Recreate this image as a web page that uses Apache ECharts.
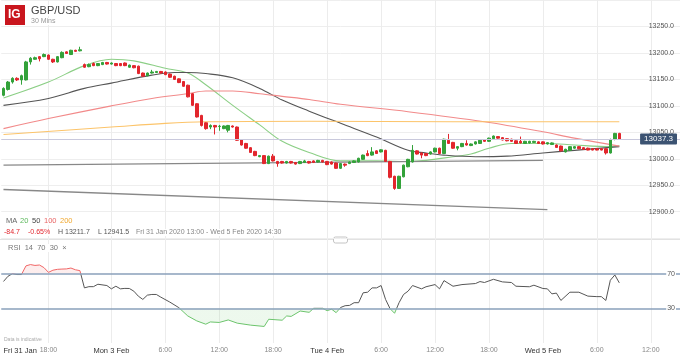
<!DOCTYPE html>
<html>
<head>
<meta charset="utf-8">
<script src="https://cdn.jsdelivr.net/npm/echarts@6/dist/echarts.min.js"></script>
<style>
  html, body { margin: 0; padding: 0; background: #fff; }
  #chart { width: 680px; height: 355px; }
</style>
</head>
<body>
<div id="chart"></div>
<script>
// GBP/USD 30 min, Fri 31 Jan - Wed 5 Feb 2020
var FONT = 'Liberation Sans, Arial, sans-serif';
var UP = '#33a23a';
var DOWN = '#e2262d';

// trading sessions: day, first hour, number of 30 min bars
var sessions = [['Fri 31 Jan', 13, 22], ['Sun 2 Feb', 23, 2], ['Mon 3 Feb', 0, 48], ['Tue 4 Feb', 0, 48], ['Wed 5 Feb', 0, 31]];
var categories = [];
sessions.forEach(function (s) {
  for (var k = 0; k < s[2]; k++) {
    var m = s[1] * 60 + k * 30;
    categories.push(s[0] + ' ' + Math.floor(m / 60) + ':' + (m % 60 ? '30' : '00'));
  }
});

var tickLabels = {
  'Fri 31 Jan 13:00': 'Fri 31 Jan',
  'Fri 31 Jan 18:00': '18:00',
  'Mon 3 Feb 0:00': 'Mon 3 Feb',
  'Mon 3 Feb 6:00': '6:00',
  'Mon 3 Feb 12:00': '12:00',
  'Mon 3 Feb 18:00': '18:00',
  'Tue 4 Feb 0:00': 'Tue 4 Feb',
  'Tue 4 Feb 6:00': '6:00',
  'Tue 4 Feb 12:00': '12:00',
  'Tue 4 Feb 18:00': '18:00',
  'Wed 5 Feb 0:00': 'Wed 5 Feb',
  'Wed 5 Feb 6:00': '6:00',
  'Wed 5 Feb 12:00': '12:00'
};

// [open, close, low, high]
var candles = [
  [13120, 13133, 13118, 13135], [13131, 13145, 13129, 13147], [13145, 13152, 13142, 13154], [13152, 13149, 13147, 13154],
  [13149, 13157, 13140, 13159], [13149, 13183, 13148, 13185], [13183, 13190, 13178, 13192], [13188, 13191, 13187, 13193],
  [13193, 13189, 13184, 13194], [13193, 13197, 13192, 13199], [13196, 13188, 13187, 13197], [13188, 13183, 13181, 13189],
  [13183, 13193, 13182, 13194], [13191, 13201, 13190, 13203], [13202, 13199, 13198, 13203], [13197, 13205, 13196, 13206],
  [13205, 13203, 13202, 13206], [13204, 13206, 13203, 13211.7],
  [13178, 13173, 13172, 13180], [13174, 13178, 13173, 13180], [13180, 13176, 13175, 13182], [13176, 13180, 13175, 13181],
  [13178, 13182, 13177, 13183], [13182, 13179, 13178, 13183], [13179, 13181, 13178, 13182], [13180, 13176, 13175, 13181],
  [13180, 13176, 13175, 13181], [13181, 13176, 13175, 13182], [13173, 13177, 13172, 13178], [13176, 13172, 13171, 13177],
  [13175, 13161, 13160, 13176], [13162, 13156, 13155, 13163], [13157, 13162, 13156, 13163], [13162, 13164, 13161, 13168],
  [13163, 13165, 13162, 13166], [13165, 13162, 13161, 13166], [13164, 13159, 13158, 13165], [13160, 13154, 13153, 13161],
  [13156, 13150, 13149, 13157], [13151, 13144, 13143, 13152], [13146, 13137, 13136, 13147], [13139, 13117, 13116, 13140],
  [13123, 13101, 13100, 13124], [13104, 13079, 13078, 13105], [13082, 13063, 13061, 13083], [13068, 13057, 13055, 13069],
  [13060, 13063, 13056, 13065], [13063, 13060, 13046, 13064], [13061, 13061.5, 13053, 13064], [13057, 13062, 13056, 13063],
  [13054, 13063, 13050, 13064], [13062, 13060, 13059, 13063], [13060, 13035, 13034, 13061], [13036, 13026, 13025, 13037],
  [13029, 13020, 13019, 13030], [13021, 13012, 13011, 13022], [13014, 13006, 13005, 13015], [13004, 13006, 13003, 13007],
  [13006, 12991, 12990, 13007], [12991, 13005, 12990, 13006], [13005, 12996, 12995, 13009], [12995, 12991, 12985, 12996],
  [12995, 12992, 12991, 12996], [12992, 12995, 12991, 12996], [12995, 12992, 12991, 12996], [12993, 12990, 12989, 12994],
  [12991, 12995, 12990, 12996], [12993, 12996, 12992, 12998], [12995, 12992, 12991, 12996], [12996, 12993, 12992, 12997],
  [12994, 12997, 12993, 12998], [12997, 12994, 12993, 12998], [12995, 12989, 12988, 12996], [12994, 12990, 12989, 12995],
  [12992, 12982, 12981, 12993], [12982, 12991, 12981, 12992], [12990, 12988, 12985, 12991], [12991, 12994, 12990, 12995],
  [12993, 12996, 12992, 12997], [12994, 13001, 12993, 13002], [12999, 13007, 12998, 13008], [13010, 13006, 13005, 13016],
  [13007, 13013, 13006, 13022], [13015, 13010, 13009, 13016], [13013, 13017, 13012, 13018], [13016, 12995, 12994, 13017],
  [12995, 12965, 12963, 12996], [12967, 12944, 12941.5, 12968], [12944, 12967, 12943, 12968], [12966, 12988, 12965, 12989],
  [12985, 12999, 12984, 13000], [12994, 13016, 12993, 13026], [13015, 13009, 13008, 13016], [13011, 13007, 13001, 13012],
  [13010, 13006, 13005, 13011], [13009, 13013, 13008, 13014], [13013, 13020, 13012, 13021], [13020, 13010, 13009, 13021],
  [13010, 13037, 13009, 13038], [13035, 13029, 13028, 13047], [13031, 13020, 13019, 13032], [13020, 13023, 13016, 13024],
  [13023, 13029, 13022, 13030], [13029, 13026, 13025, 13035], [13025, 13028, 13024, 13029], [13028, 13032, 13027, 13033],
  [13029, 13035, 13028, 13036], [13036, 13033, 13032, 13037], [13033, 13039, 13032, 13040], [13038, 13043, 13037, 13044],
  [13042, 13039, 13038, 13043], [13040, 13035.5, 13035, 13041], [13038, 13034, 13033, 13039], [13037, 13033, 13032, 13038],
  [13034, 13029, 13028, 13035], [13033, 13030, 13029, 13042], [13029, 13033, 13028, 13034], [13030, 13033, 13029, 13034],
  [13031, 13033, 13030, 13034], [13032, 13029, 13028, 13033], [13032, 13028, 13027, 13033], [13028, 13030.5, 13027, 13031],
  [13027, 13030, 13026, 13031], [13026, 13021.5, 13021, 13027], [13024, 13015, 13014, 13025], [13013, 13018, 13012, 13019],
  [13016, 13023, 13015, 13024], [13020, 13023, 13019, 13024], [13023, 13019, 13018, 13024], [13021, 13018, 13017, 13022],
  [13020, 13016.5, 13016, 13021], [13019, 13016.5, 13016, 13020], [13019, 13016.5, 13016, 13020], [13019, 13016.5, 13016, 13020],
  [13019, 13011, 13008, 13020], [13011, 13036.5, 13010, 13038], [13036.5, 13048, 13035, 13049], [13048, 13037.3, 13036, 13049]
];
var lastPrice = 13037.3;

// moving averages: [bar index, value]
var ma20 = [[0, 13115], [10, 13145], [18, 13176], [24, 13188], [29, 13185], [36, 13171], [41, 13162], [45, 13140], [51, 13101],
  [57, 13064], [62, 13033], [68, 13012], [75, 12996], [83, 12996], [90, 12995], [94, 12997], [100, 13004], [104, 13009],
  [108, 13020], [113, 13029], [121, 13029], [127, 13026], [135, 13023], [137, 13025]];
var ma50 = [[0, 13101], [10, 13114], [18, 13133], [24, 13143], [33, 13158], [38, 13163], [41, 13163], [45, 13161], [51, 13153],
  [57, 13133], [62, 13111], [68, 13090], [75, 13067], [83, 13041], [90, 13016], [94, 13011], [98, 13007], [105, 13004],
  [112, 13005], [120, 13011], [127, 13016], [137, 13023]];
var ma100 = [[0, 13057], [10, 13076], [24, 13100], [33, 13114], [41, 13123], [45, 13128], [51, 13128], [57, 13123], [62, 13118],
  [68, 13112], [75, 13103], [90, 13089], [107, 13070], [120, 13051], [127, 13039], [137, 13024]];
var ma200 = [[0, 13046], [24, 13060], [36, 13067], [45, 13070], [68, 13071], [100, 13070], [137, 13070]];

// drawn trend lines
var trendUpper = [[0, 12988], [120, 12997]];
var trendLower = [[0, 12942], [121, 12904]];

// RSI 14
var rsi = [[0, 61], [1, 67], [2, 70], [3, 69], [4, 69], [5, 79], [6, 80.5], [7, 79.5], [8, 80], [9, 77], [10, 71.5], [11, 74],
  [12, 75], [13, 75.3], [14, 75.5], [15, 76.5], [16, 74.5], [17, 73.5], [18, 53.6], [19, 55], [20, 55], [21, 57.8], [23, 56.3],
  [24, 52.5], [25, 55.5], [26, 52.5], [27, 53], [28, 52.9], [29, 49.8], [30, 44], [31, 40.3], [32, 45.2], [33, 46], [34, 46],
  [35, 42.9], [37, 37.2], [39, 30.8], [41, 21.2], [43, 15.5], [45, 11.7], [46, 14.3], [48, 13.7], [50, 16.6], [52, 12.9],
  [55, 10.6], [58, 9.1], [59, 17.4], [62, 16.3], [63, 21.2], [64, 20.7], [66, 26.9], [68, 25.4], [69, 30], [71, 30], [72, 27.3],
  [73, 29], [74, 25], [75, 31], [76, 33], [77, 33.4], [78, 36.5], [79, 36.5], [80, 47.9], [81, 48.6], [82, 53.6], [83, 53.6],
  [84, 56.3], [85, 40.3], [86, 29.6], [87, 24.3], [88, 36.5], [89, 46], [90, 49.8], [91, 56.3], [93, 52.5], [94, 54.9],
  [96, 57.4], [97, 52.5], [98, 62], [100, 55.5], [102, 57.4], [105, 58.6], [106, 60.9], [107, 59.8], [109, 63.5], [111, 60.5],
  [113, 59.8], [114, 55.5], [117, 54.9], [118, 56.7], [120, 52.9], [121, 52.5], [122, 46.7], [123, 47.6], [124, 39.1],
  [126, 48.6], [128, 48.6], [130, 44.1], [132, 43.5], [133, 43.5], [134, 39.1], [135, 62.4], [136, 68.5], [137, 59.4]];
var rsiLevels = [70, 30];

var chart = echarts.init(document.getElementById('chart'));

function isTick(idx, v) { return tickLabels.hasOwnProperty(v); }
function isGrid(idx, v) { return idx > 0 && tickLabels.hasOwnProperty(v); }

function xAxisOf(grid, showLabels) {
  return {
    type: 'category',
    gridIndex: grid,
    data: categories,
    boundaryGap: true,
    axisLine: { show: false },
    axisTick: { show: false },
    splitLine: { show: true, interval: isGrid, alignWithLabel: true, lineStyle: { color: '#ececec', width: 1 } },
    axisLabel: {
      show: showLabels,
      interval: isTick,
      alignMinLabel: 'left',
      margin: 4,
      fontFamily: FONT,
      formatter: function (v) {
        var t = tickLabels[v];
        return t.indexOf(':') > 0 ? '{t|' + t + '}' : '{d|' + t + '}';
      },
      rich: {
        d: { color: '#333', fontSize: 7.5, fontFamily: FONT },
        t: { color: '#888', fontSize: 7, fontFamily: FONT }
      }
    }
  };
}

function maSeries(name, data, color) {
  return {
    name: name, type: 'line', data: data, xAxisIndex: 0, yAxisIndex: 0,
    symbol: 'none', smooth: 0.35, silent: true, z: 2,
    lineStyle: { color: color, width: 1.1 }
  };
}

function label(x, y, text, color, size) {
  return { type: 'text', left: x, top: y, z: 20,
    style: { text: text, fill: color, font: (size || 7) + 'px ' + FONT, backgroundColor: '#fff', padding: [0, 1] } };
}

var CLEAR = 'rgba(255,255,255,0)';

var option = {
  animation: false,
  backgroundColor: '#fff',
  grid: [
    { left: 1.25, width: 679.5, top: 0, height: 238.2 },
    { left: 1.25, width: 679.5, top: 239, height: 105 }
  ],
  xAxis: [xAxisOf(0, false), xAxisOf(1, true)],
  yAxis: [
    {
      type: 'value', gridIndex: 0, position: 'right', min: 12850, max: 13300, interval: 50,
      axisLine: { show: false }, axisTick: { show: false },
      splitLine: { lineStyle: { color: '#eeeeee' } },
      axisLabel: {
        inside: true, margin: 6, fontSize: 7, color: '#555', fontFamily: FONT,
        showMinLabel: false, showMaxLabel: false,
        formatter: function (v) { return v.toFixed(1); }
      }
    },
    {
      type: 'value', gridIndex: 0, position: 'right', min: 12850, max: 13300, z: 10,
      axisLine: { show: false }, axisTick: { show: false }, splitLine: { show: false },
      axisLabel: {
        inside: true, margin: 3, fontSize: 8, color: '#fff', fontFamily: FONT,
        customValues: [lastPrice], backgroundColor: '#3c5372', padding: [2, 4, 1, 4], borderRadius: 1,
        formatter: function (v) { return v.toFixed(1); }
      }
    },
    {
      type: 'value', gridIndex: 1, position: 'right', min: -10, max: 110, z: 10,
      axisLine: { show: false }, axisTick: { show: false }, splitLine: { show: false },
      axisLabel: {
        inside: true, margin: 4, fontSize: 7, color: '#555', fontFamily: FONT,
        customValues: rsiLevels, backgroundColor: '#fff', padding: [0, 1]
      }
    }
  ],
  visualMap: [
    { type: 'piecewise', show: false, seriesIndex: 7, dimension: 1,
      pieces: [{ gte: -100, lte: 70, color: CLEAR }, { gt: 70, lte: 200, color: 'rgba(240,110,110,0.12)' }] },
    { type: 'piecewise', show: false, seriesIndex: 8, dimension: 1,
      pieces: [{ gte: -100, lt: 30, color: 'rgba(110,200,110,0.12)' }, { gte: 30, lte: 200, color: CLEAR }] },
    { type: 'piecewise', show: false, seriesIndex: 9, dimension: 1,
      pieces: [{ gte: -100, lt: 30, color: '#6cc46c' }, { gte: 30, lte: 70, color: '#555' }, { gt: 70, lte: 200, color: '#f06666' }] }
  ],
  series: [
    {
      name: 'GBP/USD', type: 'candlestick', data: candles, xAxisIndex: 0, yAxisIndex: 0,
      barWidth: 3, z: 3, silent: true,
      itemStyle: { color: UP, color0: DOWN, borderColor: UP, borderColor0: DOWN, borderWidth: 1 },
      markLine: {
        silent: true, symbol: 'none', label: { show: false },
        lineStyle: { color: '#c9c9dc', width: 1, type: 'solid' },
        data: [{ yAxis: lastPrice }]
      }
    },
    maSeries('MA20', ma20, '#8ccf86'),
    maSeries('MA50', ma50, '#555555'),
    maSeries('MA100', ma100, '#f28a8a'),
    maSeries('MA200', ma200, '#fcc46a'),
    { name: 'trend1', type: 'line', data: trendUpper, symbol: 'none', silent: true, z: 2,
      lineStyle: { color: '#888', width: 1.4 } },
    { name: 'trend2', type: 'line', data: trendLower, symbol: 'none', silent: true, z: 2,
      lineStyle: { color: '#888', width: 1.4 } },
    { name: 'rsiHigh', type: 'line', data: rsi, xAxisIndex: 1, yAxisIndex: 2, symbol: 'none', silent: true, z: 1,
      lineStyle: { width: 0, opacity: 0 }, areaStyle: { origin: 70, opacity: 1 } },
    { name: 'rsiLow', type: 'line', data: rsi, xAxisIndex: 1, yAxisIndex: 2, symbol: 'none', silent: true, z: 1,
      lineStyle: { width: 0, opacity: 0 }, areaStyle: { origin: 30, opacity: 1 } },
    {
      name: 'RSI', type: 'line', data: rsi, xAxisIndex: 1, yAxisIndex: 2, symbol: 'none', silent: true, z: 3,
      lineStyle: { width: 1 },
      markLine: {
        silent: true, symbol: 'none', label: { show: false },
        lineStyle: { color: '#8aa1bb', width: 1.5, type: 'solid' },
        data: rsiLevels.map(function (v) { return { yAxis: v }; })
      }
    }
  ],
  graphic: [
    { type: 'rect', left: 5, top: 5, shape: { width: 20, height: 20 }, style: { fill: '#c9161e' } },
    { type: 'text', left: 8, top: 9, style: { text: 'IG', fill: '#fff', font: 'bold 12px ' + FONT } },
    label(30, 5, 'GBP/USD', '#444', 11),
    label(30, 18, '30 Mins', '#999', 7),
    // indicator legend
    label(5, 217, 'MA', '#666', 7.5),
    label(19, 217, '20', '#5cb85c', 7.5),
    label(31, 217, '50', '#444', 7.5),
    label(43, 217, '100', '#e86464', 7.5),
    label(59, 217, '200', '#f0a830', 7.5),
    // price summary
    label(3, 229, '-84.7', '#e2262d'),
    label(27, 229, '-0.65%', '#e2262d'),
    label(57, 229, 'H 13211.7', '#555'),
    label(97, 229, 'L 12941.5', '#555'),
    label(135, 229, 'Fri 31 Jan 2020 13:00 - Wed 5 Feb 2020 14:30', '#888'),
    { type: 'line', shape: { x1: 0, y1: 239.5, x2: 680, y2: 239.5 }, style: { stroke: '#e2e2e2', lineWidth: 1 } },
    { type: 'rect', left: 333, top: 236.5, shape: { width: 14, height: 6, r: 2 }, style: { fill: '#fff', stroke: '#c4c4c4' } },
    label(7, 244, 'RSI  14  70  30  \u00d7', '#777', 7.5),
    label(3, 337, 'Data is indicative', '#aaa', 5)
  ]
};

chart.setOption(option);
</script>
</body>
</html>
